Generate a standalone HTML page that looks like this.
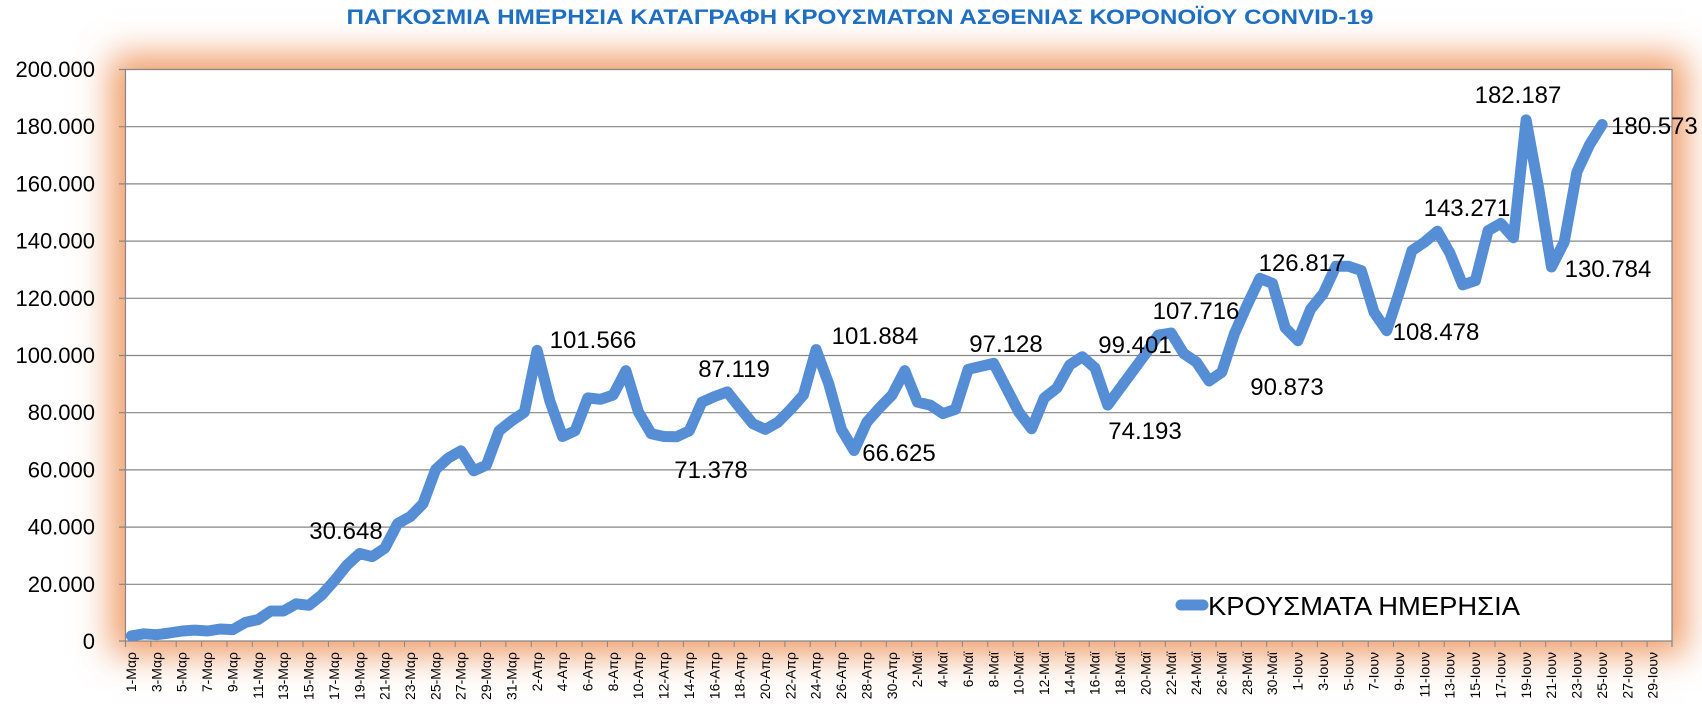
<!DOCTYPE html>
<html><head><meta charset="utf-8"><style>
html,body{margin:0;padding:0;background:#fff;width:1702px;height:718px;overflow:hidden;position:relative}
#glow{position:absolute;left:125px;top:69px;width:1547px;height:572px;box-shadow:0 0 32px 14px rgba(236,140,80,0.85);background:#fff}
svg{position:absolute;left:0;top:0}
text{font-family:"Liberation Sans",sans-serif}
</style></head><body>
<div id="glow"></div>
<svg width="1702" height="718" viewBox="0 0 1702 718">
<rect x="125" y="69" width="1547" height="572" fill="#fff"/>
<g stroke="#868686" stroke-width="1.2">
<line x1="119" y1="69.5" x2="1672" y2="69.5"/>
<line x1="119" y1="126.7" x2="1672" y2="126.7"/>
<line x1="119" y1="183.9" x2="1672" y2="183.9"/>
<line x1="119" y1="241.1" x2="1672" y2="241.1"/>
<line x1="119" y1="298.3" x2="1672" y2="298.3"/>
<line x1="119" y1="355.5" x2="1672" y2="355.5"/>
<line x1="119" y1="412.7" x2="1672" y2="412.7"/>
<line x1="119" y1="469.9" x2="1672" y2="469.9"/>
<line x1="119" y1="527.1" x2="1672" y2="527.1"/>
<line x1="119" y1="584.3" x2="1672" y2="584.3"/>
<line x1="119" y1="641" x2="1672" y2="641"/>
<line x1="125.5" y1="69" x2="125.5" y2="647"/>
<line x1="1672" y1="69" x2="1672" y2="647"/>
</g>
<path stroke="#868686" stroke-width="1" fill="none" d="M150.9 641v6M176.2 641v6M201.6 641v6M227 641v6M252.3 641v6M277.7 641v6M303 641v6M328.4 641v6M353.8 641v6M379.1 641v6M404.5 641v6M429.8 641v6M455.2 641v6M480.6 641v6M505.9 641v6M531.3 641v6M556.6 641v6M582 641v6M607.4 641v6M632.7 641v6M658.1 641v6M683.4 641v6M708.8 641v6M734.2 641v6M759.5 641v6M784.9 641v6M810.2 641v6M835.6 641v6M861 641v6M886.3 641v6M911.7 641v6M937 641v6M962.4 641v6M987.8 641v6M1013.1 641v6M1038.5 641v6M1063.8 641v6M1089.2 641v6M1114.6 641v6M1139.9 641v6M1165.3 641v6M1190.6 641v6M1216 641v6M1241.4 641v6M1266.7 641v6M1292.1 641v6M1317.4 641v6M1342.8 641v6M1368.2 641v6M1393.5 641v6M1418.9 641v6M1444.2 641v6M1469.6 641v6M1495 641v6M1520.3 641v6M1545.7 641v6M1571 641v6M1596.4 641v6M1621.8 641v6M1647.1 641v6"/>
<g font-size="22" text-anchor="end" fill="#000">
<text x="95" y="77">200.000</text>
<text x="95" y="134.2">180.000</text>
<text x="95" y="191.4">160.000</text>
<text x="95" y="248.6">140.000</text>
<text x="95" y="305.8">120.000</text>
<text x="95" y="363">100.000</text>
<text x="95" y="420.2">80.000</text>
<text x="95" y="477.4">60.000</text>
<text x="95" y="534.6">40.000</text>
<text x="95" y="591.8">20.000</text>
<text x="95" y="649">0</text>
</g>
<text x="860" y="24" font-size="21" font-weight="bold" fill="#1f6fc0" text-anchor="middle" textLength="1027" lengthAdjust="spacingAndGlyphs">ΠΑΓΚΟΣΜΙΑ ΗΜΕΡΗΣΙΑ ΚΑΤΑΓΡΑΦΗ ΚΡΟΥΣΜΑΤΩΝ ΑΣΘΕΝΙΑΣ ΚΟΡΟΝΟΪΟΥ CONVID-19</text>
<polyline fill="none" stroke="#558ed5" stroke-width="11" stroke-linejoin="round" stroke-linecap="round" points="131.3,635.9 144,633.8 156.7,634.7 169.4,633 182.1,631 194.7,630.1 207.4,631 220.1,629 232.8,629.6 245.5,622.4 258.1,619.6 270.8,611 283.5,611 296.2,603.8 308.9,605.3 321.5,595.2 334.2,580.9 346.9,565.2 359.6,553.5 372.3,556.6 384.9,548.1 397.6,523.7 410.3,516.6 423,503.7 435.7,469.4 448.3,458 461,450.8 473.7,470.8 486.4,465.1 499.1,430.8 511.7,420.8 524.4,412.2 537.1,350.4 549.8,400.8 562.5,436.5 575.1,430.8 587.8,397.9 600.5,399.3 613.2,395 625.9,370.7 638.5,412.2 651.2,433.7 663.9,436.5 676.6,436.8 689.3,430.8 701.9,402.2 714.6,396.5 727.3,391.9 740,407.9 752.7,423.6 765.3,429.4 778,422.2 790.7,409.3 803.4,395 816.1,349.6 828.7,383.6 841.4,429.4 854.1,450.5 866.8,422.2 879.5,407.9 892.1,395 904.8,370.7 917.5,402.2 930.2,405.1 942.9,413.6 955.5,409.3 968.2,369.3 980.9,366.4 993.6,363.3 1006.3,387.9 1018.9,412.2 1031.6,428.8 1044.3,397.9 1057,387.9 1069.7,365 1082.3,356.7 1095,367.9 1107.7,405.1 1120.4,387.9 1133.1,370.7 1145.7,353.6 1158.4,335 1171.1,333 1183.8,353.6 1196.5,362.2 1209.1,381 1221.8,372.2 1234.5,333.5 1247.2,305 1259.9,278.3 1272.5,283.5 1285.2,327.8 1297.9,340.7 1310.6,309.2 1323.3,293.5 1335.9,266.3 1348.6,266.3 1361.3,270.6 1374,312.1 1386.7,330.7 1399.3,292.1 1412,250.6 1424.7,242 1437.4,231.2 1450.1,253.5 1462.7,284.9 1475.4,280.6 1488.1,230.6 1500.8,223.4 1513.5,237.7 1526.1,119.9 1538.8,189.1 1551.5,267 1564.2,242 1576.9,172 1589.5,144.8 1602.2,124.5"/>
<g font-size="24" fill="#000" text-anchor="middle">
<text x="346" y="539">30.648</text>
<text x="593" y="348">101.566</text>
<text x="734" y="377">87.119</text>
<text x="711" y="478">71.378</text>
<text x="875" y="344">101.884</text>
<text x="899" y="461">66.625</text>
<text x="1006" y="352">97.128</text>
<text x="1135" y="353">99.401</text>
<text x="1145" y="439">74.193</text>
<text x="1196" y="319">107.716</text>
<text x="1287" y="395">90.873</text>
<text x="1302" y="271">126.817</text>
<text x="1436" y="340">108.478</text>
<text x="1467" y="216">143.271</text>
<text x="1608" y="277">130.784</text>
<text x="1518" y="103">182.187</text>
<text x="1611" y="134" text-anchor="start">180.573</text>
</g>
<line x1="1181" y1="605" x2="1203" y2="605" stroke="#558ed5" stroke-width="11" stroke-linecap="round"/>
<text x="1208" y="615" font-size="26" fill="#000" textLength="312" lengthAdjust="spacingAndGlyphs">ΚΡΟΥΣΜΑΤΑ ΗΜΕΡΗΣΙΑ</text>
<g font-size="14" fill="#000" text-anchor="end">
<text transform="translate(136,652) rotate(-90)">1-Μαρ</text>
<text transform="translate(161.4,652) rotate(-90)">3-Μαρ</text>
<text transform="translate(186.7,652) rotate(-90)">5-Μαρ</text>
<text transform="translate(212.1,652) rotate(-90)">7-Μαρ</text>
<text transform="translate(237.5,652) rotate(-90)">9-Μαρ</text>
<text transform="translate(262.8,652) rotate(-90)">11-Μαρ</text>
<text transform="translate(288.2,652) rotate(-90)">13-Μαρ</text>
<text transform="translate(313.5,652) rotate(-90)">15-Μαρ</text>
<text transform="translate(338.9,652) rotate(-90)">17-Μαρ</text>
<text transform="translate(364.3,652) rotate(-90)">19-Μαρ</text>
<text transform="translate(389.6,652) rotate(-90)">21-Μαρ</text>
<text transform="translate(415,652) rotate(-90)">23-Μαρ</text>
<text transform="translate(440.3,652) rotate(-90)">25-Μαρ</text>
<text transform="translate(465.7,652) rotate(-90)">27-Μαρ</text>
<text transform="translate(491.1,652) rotate(-90)">29-Μαρ</text>
<text transform="translate(516.4,652) rotate(-90)">31-Μαρ</text>
<text transform="translate(541.8,652) rotate(-90)">2-Απρ</text>
<text transform="translate(567.1,652) rotate(-90)">4-Απρ</text>
<text transform="translate(592.5,652) rotate(-90)">6-Απρ</text>
<text transform="translate(617.9,652) rotate(-90)">8-Απρ</text>
<text transform="translate(643.2,652) rotate(-90)">10-Απρ</text>
<text transform="translate(668.6,652) rotate(-90)">12-Απρ</text>
<text transform="translate(693.9,652) rotate(-90)">14-Απρ</text>
<text transform="translate(719.3,652) rotate(-90)">16-Απρ</text>
<text transform="translate(744.7,652) rotate(-90)">18-Απρ</text>
<text transform="translate(770,652) rotate(-90)">20-Απρ</text>
<text transform="translate(795.4,652) rotate(-90)">22-Απρ</text>
<text transform="translate(820.7,652) rotate(-90)">24-Απρ</text>
<text transform="translate(846.1,652) rotate(-90)">26-Απρ</text>
<text transform="translate(871.5,652) rotate(-90)">28-Απρ</text>
<text transform="translate(896.8,652) rotate(-90)">30-Απρ</text>
<text transform="translate(922.2,652) rotate(-90)">2-Μαϊ</text>
<text transform="translate(947.5,652) rotate(-90)">4-Μαϊ</text>
<text transform="translate(972.9,652) rotate(-90)">6-Μαϊ</text>
<text transform="translate(998.3,652) rotate(-90)">8-Μαϊ</text>
<text transform="translate(1023.6,652) rotate(-90)">10-Μαϊ</text>
<text transform="translate(1049,652) rotate(-90)">12-Μαϊ</text>
<text transform="translate(1074.3,652) rotate(-90)">14-Μαϊ</text>
<text transform="translate(1099.7,652) rotate(-90)">16-Μαϊ</text>
<text transform="translate(1125.1,652) rotate(-90)">18-Μαϊ</text>
<text transform="translate(1150.4,652) rotate(-90)">20-Μαϊ</text>
<text transform="translate(1175.8,652) rotate(-90)">22-Μαϊ</text>
<text transform="translate(1201.1,652) rotate(-90)">24-Μαϊ</text>
<text transform="translate(1226.5,652) rotate(-90)">26-Μαϊ</text>
<text transform="translate(1251.9,652) rotate(-90)">28-Μαϊ</text>
<text transform="translate(1277.2,652) rotate(-90)">30-Μαϊ</text>
<text transform="translate(1302.6,652) rotate(-90)">1-Ιουν</text>
<text transform="translate(1327.9,652) rotate(-90)">3-Ιουν</text>
<text transform="translate(1353.3,652) rotate(-90)">5-Ιουν</text>
<text transform="translate(1378.7,652) rotate(-90)">7-Ιουν</text>
<text transform="translate(1404,652) rotate(-90)">9-Ιουν</text>
<text transform="translate(1429.4,652) rotate(-90)">11-Ιουν</text>
<text transform="translate(1454.7,652) rotate(-90)">13-Ιουν</text>
<text transform="translate(1480.1,652) rotate(-90)">15-Ιουν</text>
<text transform="translate(1505.5,652) rotate(-90)">17-Ιουν</text>
<text transform="translate(1530.8,652) rotate(-90)">19-Ιουν</text>
<text transform="translate(1556.2,652) rotate(-90)">21-Ιουν</text>
<text transform="translate(1581.5,652) rotate(-90)">23-Ιουν</text>
<text transform="translate(1606.9,652) rotate(-90)">25-Ιουν</text>
<text transform="translate(1632.3,652) rotate(-90)">27-Ιουν</text>
<text transform="translate(1657.6,652) rotate(-90)">29-Ιουν</text>
</g>
</svg>
</body></html>
